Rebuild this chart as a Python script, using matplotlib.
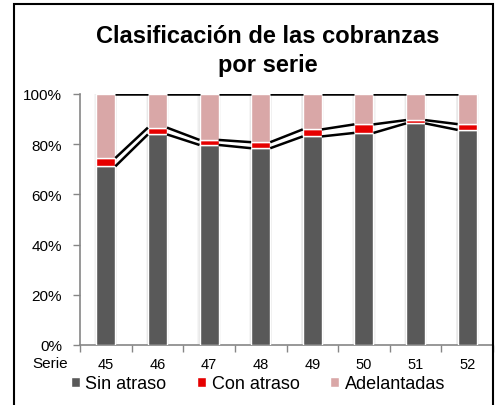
import matplotlib
matplotlib.use("Agg")
import matplotlib.pyplot as plt
from matplotlib.patches import Rectangle
import numpy as np

plt.rcParams["font.family"] = ["Liberation Sans", "DejaVu Sans"]

series = ["45", "46", "47", "48", "49", "50", "51", "52"]
sin_atraso = [71.2, 83.9, 79.7, 78.4, 83.1, 84.5, 88.3, 85.7]
con_atraso = [3.3, 2.7, 2.0, 2.4, 2.8, 3.4, 1.3, 2.3]
adelantadas = [25.5, 13.4, 18.3, 19.2, 14.1, 12.1, 10.4, 12.0]

c_sin = "#595959"
c_con = "#e60000"
c_adel = "#d9a7a7"
axis_grey = "#868686"

fig = plt.figure(figsize=(4.96, 4.06), dpi=100)
ax = fig.add_axes([80 / 496, (406 - 346) / 406, (493 - 80) / 496, (346 - 95) / 406])

x = np.arange(len(series))
w = 0.37
sin = np.array(sin_atraso) / 100
con = np.array(con_atraso) / 100
adel = np.array(adelantadas) / 100

# soft shadow behind the columns
for off, a in [(0.08, "#f6f6f6"), (0.05, "#eeeeee"), (0.025, "#e4e4e4")]:
    ax.bar(x, sin + con + adel, width=w + off, color=a, zorder=1)

ax.bar(x, sin, width=w, color=c_sin, edgecolor="white", linewidth=1, zorder=3, label="Sin atraso")
ax.bar(x, con, width=w, bottom=sin, color=c_con, edgecolor="white", linewidth=1, zorder=3, label="Con atraso")
ax.bar(x, adel, width=w, bottom=sin + con, color=c_adel, edgecolor="white", linewidth=1, zorder=3, label="Adelantadas")

# series lines between columns
for level in [sin, sin + con, sin + con + adel]:
    for i in range(len(x) - 1):
        ax.plot([x[i] + w / 2, x[i + 1] - w / 2], [level[i], level[i + 1]],
                color="black", linewidth=1.8, zorder=4, solid_capstyle="butt")

ax.set_xlim(-0.5, len(x) - 0.5)
ax.set_ylim(0, 1)
ax.set_yticks(np.linspace(0, 1, 6))
ax.set_yticklabels([f"{int(v)}%" for v in np.linspace(0, 100, 6)], fontsize=11)
ax.set_xticks(x)
ax.set_xticklabels(series, fontsize=10.5)
ax.tick_params(axis="x", length=0, pad=9)
ax.set_xticks(np.arange(-0.5, len(x)), minor=True)
ax.tick_params(axis="x", which="minor", length=5, color=axis_grey, width=1)
ax.tick_params(axis="y", length=5, color=axis_grey, width=1, pad=8)

for side in ["top", "right"]:
    ax.spines[side].set_visible(False)
for side in ["left", "bottom"]:
    ax.spines[side].set_color(axis_grey)
    ax.spines[side].set_linewidth(1.2)

ax.annotate("Serie", xy=(0, 0), xycoords="axes fraction", xytext=(-9, -8),
            textcoords="offset points", ha="right", va="top", fontsize=11)

fig.text(0.54, 1 - 51 / 406, "Clasificación de las cobranzas\npor serie",
         ha="center", va="center", fontsize=17, fontweight="bold", linespacing=1.3)

fig.legend(loc="center", bbox_to_anchor=(0.52, 1 - 385 / 406), ncol=3, frameon=False,
           fontsize=13, handlelength=0.5, handleheight=0.5, handletextpad=0.3,
           columnspacing=1.7)

# chart border
fig.patches.append(Rectangle((14 / 496, -0.1), (493 - 14) / 496, 1.1 - 5 / 406,
                             transform=fig.transFigure, fill=False,
                             edgecolor="black", linewidth=1.5))

fig.savefig("out.png", dpi=100)
